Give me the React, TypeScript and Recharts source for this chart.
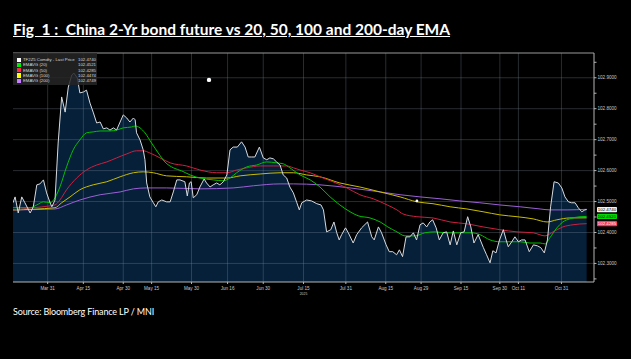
import React from 'react';
import {
  ComposedChart,
  Area,
  Line,
  XAxis,
  YAxis,
  ReferenceLine,
  ReferenceDot,
} from 'recharts';

// x = trading session index (0 = first bar), y = price
const LAST_PRICE: [number, number][] = [
  [0, 102.496], [0.6, 102.515], [1.5, 102.463], [2.5, 102.515], [3.4, 102.496], [4.9, 102.463],
  [5.8, 102.483], [6.8, 102.554], [7.7, 102.557], [8.7, 102.57], [9.6, 102.528], [10.6, 102.496],
  [11.1, 102.483], [12, 102.505], [12.9, 102.689], [13.9, 102.838], [14.9, 102.789], [15.8, 102.87],
  [16.8, 102.909], [17.4, 102.915], [18.4, 102.899], [19.1, 102.851], [20.1, 102.854], [21, 102.86],
  [22, 102.818], [22.9, 102.789], [23.9, 102.754], [24.9, 102.757], [25.8, 102.735], [26.8, 102.738],
  [27.7, 102.731], [28.7, 102.738], [29.6, 102.731], [30.6, 102.757], [31.5, 102.78], [32.5, 102.77],
  [33.4, 102.757], [34.4, 102.77], [34.9, 102.764], [35.3, 102.722], [36.3, 102.699], [37.2, 102.667],
  [37.7, 102.635], [38.2, 102.56], [39.1, 102.515], [40.1, 102.496], [40.8, 102.483], [41.5, 102.499],
  [42.5, 102.505], [43.9, 102.499], [44.9, 102.499], [45.8, 102.531], [46.8, 102.57], [47.7, 102.57],
  [49.1, 102.564], [49.8, 102.518], [50.4, 102.56], [50.9, 102.564], [51.5, 102.512], [52.5, 102.522],
  [53.4, 102.547], [54.6, 102.573], [55.3, 102.56], [56.3, 102.547], [57.2, 102.554], [58.2, 102.56],
  [59.1, 102.554], [60.1, 102.564], [61.1, 102.586], [62, 102.667], [62.9, 102.676], [64.1, 102.676],
  [65.3, 102.693], [66.3, 102.676], [67.2, 102.644], [68.2, 102.644], [69.1, 102.644], [70.4, 102.676],
  [71.5, 102.641], [72.5, 102.635], [73.4, 102.641], [74.4, 102.638], [75.3, 102.628], [76.3, 102.618],
  [77.2, 102.586], [78.2, 102.576], [79.1, 102.547], [80.1, 102.528], [81.1, 102.496], [81.8, 102.473],
  [82.5, 102.496], [83.9, 102.505], [85.3, 102.502], [86.8, 102.493], [88, 102.489], [88.7, 102.473],
  [89.6, 102.402], [90.8, 102.409], [91.7, 102.434], [92.5, 102.399], [93.2, 102.376], [93.9, 102.393],
  [95, 102.415], [95.8, 102.399], [97.2, 102.366], [98.2, 102.393], [99.6, 102.415], [101.3, 102.434],
  [102.5, 102.386], [103.2, 102.376], [104.4, 102.418], [105.3, 102.399], [106.6, 102.36], [107.5, 102.338],
  [108.5, 102.338], [109.6, 102.328], [110.4, 102.344], [111.3, 102.322], [112.3, 102.386], [113.4, 102.386],
  [114.4, 102.399], [115.3, 102.376], [116.3, 102.425], [117.2, 102.431], [118.2, 102.418], [119.1, 102.434],
  [119.9, 102.441], [120.9, 102.415], [121.8, 102.376], [122.9, 102.399], [123.9, 102.402], [124.9, 102.36],
  [125.8, 102.405], [126.8, 102.36], [127.9, 102.399], [128.9, 102.402], [129.9, 102.451], [130.8, 102.418],
  [131.7, 102.366], [132.9, 102.393], [134.4, 102.351], [135.3, 102.328], [136.3, 102.302], [137.1, 102.341],
  [138, 102.334], [139, 102.376], [140.1, 102.409], [140.9, 102.376], [141.5, 102.354], [142.5, 102.37],
  [143.4, 102.386], [144.4, 102.37], [145.3, 102.376], [146.3, 102.376], [147.5, 102.338], [148.7, 102.36],
  [149.8, 102.357], [150.8, 102.351], [151.8, 102.334], [152.7, 102.376], [153.6, 102.483], [154.6, 102.564],
  [155.8, 102.56], [156.8, 102.544], [157.7, 102.515], [158.7, 102.499], [159.6, 102.496], [160.6, 102.496],
  [161.5, 102.48], [162.5, 102.467], [163.4, 102.473], [163.9, 102.474],
];

const EMA_20: [number, number][] = [
  [0, 102.48], [4.9, 102.48], [6.8, 102.489], [8.7, 102.499], [10.6, 102.496], [12, 102.512],
  [13.4, 102.547], [15.3, 102.612], [17.2, 102.667], [19.1, 102.699], [21, 102.722], [22.9, 102.725],
  [24.9, 102.728], [27.7, 102.728], [29.6, 102.731], [31.5, 102.738], [33.9, 102.741], [34.9, 102.744],
  [36.3, 102.738], [37.7, 102.722], [39.6, 102.689], [41.5, 102.657], [43.4, 102.628], [45.8, 102.609],
  [48.2, 102.599], [50.6, 102.586], [53.4, 102.576], [57.2, 102.57], [60.1, 102.567], [62, 102.576],
  [63.9, 102.593], [66.8, 102.612], [69.6, 102.618], [72.5, 102.628], [75.3, 102.625], [77.2, 102.622],
  [79.1, 102.609], [82, 102.586], [84.9, 102.57], [87.7, 102.547], [90.6, 102.515], [93.4, 102.489],
  [96.3, 102.467], [98.6, 102.454], [102, 102.447], [104.9, 102.434], [107.1, 102.418], [109.7, 102.402],
  [112, 102.389], [114.9, 102.389], [117.7, 102.399], [120.6, 102.402], [123.4, 102.399], [126.3, 102.399],
  [129.1, 102.399], [131.1, 102.399], [133.4, 102.393], [136.3, 102.376], [139.1, 102.37], [142, 102.37],
  [144.9, 102.37], [147.7, 102.366], [150.6, 102.366], [152, 102.363], [153.4, 102.383], [155.4, 102.415],
  [157.1, 102.434], [159.1, 102.444], [162, 102.451], [163.9, 102.452],
];

const EMA_50: [number, number][] = [
  [0, 102.473], [5.8, 102.48], [10.6, 102.486], [12, 102.489], [13.4, 102.505], [15.3, 102.538],
  [18.2, 102.576], [21, 102.602], [23.9, 102.618], [26.8, 102.628], [29.6, 102.641], [32.5, 102.654],
  [35.3, 102.664], [37.2, 102.664], [39.1, 102.657], [42, 102.641], [44.9, 102.625], [49.6, 102.615],
  [53.4, 102.602], [58.2, 102.593], [61.1, 102.593], [63.9, 102.602], [66.8, 102.609], [70.6, 102.615],
  [74.4, 102.615], [78.2, 102.615], [80.1, 102.609], [82, 102.602], [84.9, 102.593], [87.7, 102.58],
  [91.4, 102.564], [95.4, 102.544], [99.1, 102.522], [102.9, 102.509], [106.9, 102.489], [109.7, 102.473],
  [111.4, 102.46], [115.4, 102.451], [120, 102.447], [124.9, 102.434], [129.7, 102.428], [134.3, 102.418],
  [139.1, 102.409], [144, 102.402], [148.6, 102.399], [152, 102.389], [154.3, 102.402], [157.1, 102.418],
  [160, 102.425], [163.9, 102.4285],
];

const EMA_100: [number, number][] = [
  [0, 102.473], [12, 102.48], [13.9, 102.496], [16.3, 102.515], [19.1, 102.538], [22.9, 102.554],
  [26.8, 102.564], [30.6, 102.58], [34.4, 102.593], [37.2, 102.596], [40.1, 102.593], [43.9, 102.583],
  [49.6, 102.58], [55.3, 102.576], [61.1, 102.576], [64.9, 102.583], [70.6, 102.589], [76.3, 102.593],
  [80.1, 102.593], [83.9, 102.586], [87.7, 102.58], [93.4, 102.56], [99.1, 102.547], [104.9, 102.531],
  [110.6, 102.515], [115.4, 102.499], [120, 102.493], [124.9, 102.483], [129.7, 102.476], [134.3, 102.467],
  [139.1, 102.457], [144, 102.451], [148.6, 102.444], [152.6, 102.434], [155.4, 102.441], [159.1, 102.447],
  [163.9, 102.4474],
];

const EMA_200: [number, number][] = [
  [0, 102.473], [12, 102.476], [15.3, 102.489], [19.1, 102.505], [24.9, 102.522], [30.6, 102.531],
  [34.4, 102.541], [38.2, 102.544], [43.9, 102.544], [53.4, 102.541], [62.9, 102.544], [68.7, 102.551],
  [76.3, 102.557], [80.1, 102.557], [87.7, 102.554], [96.3, 102.544], [104.9, 102.531], [110.6, 102.522],
  [116.3, 102.515], [122, 102.509], [127.7, 102.502], [133.4, 102.496], [139.1, 102.489], [144.9, 102.483],
  [150.6, 102.476], [153.4, 102.473], [158.3, 102.473], [163.9, 102.4749],
];

const DATE_TICKS = [9.9, 20.1, 31.5, 39.6, 51, 61.3, 71.5, 83, 95.1, 106.5, 116.6, 128, 139.1, 144.4, 156.7];
const DATE_LABELS = ['Mar 31', 'Apr 15', 'Apr 30', 'May 15', 'May 30', 'Jun 16', 'Jun 30', 'Jul 15',
  'Jul 31', 'Aug 15', 'Aug 29', 'Sep 15', 'Sep 30', 'Oct 11', 'Oct 31'];
const PRICE_TICKS = [102.3, 102.4, 102.5, 102.6, 102.7, 102.8, 102.9];
const MINOR_TICKS = [102.25, 102.35, 102.45, 102.55, 102.65, 102.75, 102.85, 102.95];

const LEGEND_NAMES = ['TF2Z5 Comdty - Last Price', 'EMAVG (20)', 'EMAVG (50)', 'EMAVG (100)', 'EMAVG (200)'];
const LEGEND_VALUES = ['102.4740', '102.4521', '102.4285', '102.4474', '102.4749'];
const LEGEND_SWATCH = ['#ffffff', '#00ee00', '#ff2a48', '#ffff00', '#c77dff'];

// badges at the right axis: value, background, text colour
const BADGES: [number, string, string][] = [
  [102.474, '#f2f2f2', '#000'],
  [102.4521, '#00dd00', '#000'],
  [102.4285, '#ff3355', '#fff'],
];

// chart annotations drawn on the Bloomberg screen
const MARKS: [number, number][] = [[56, 102.893], [115.4, 102.502]];

const Y_MIN = 102.24;
const Y_MAX = 102.98;
const X_MAX = 166;

const SERIES: { key: string; points: [number, number][] }[] = [
  { key: 'price', points: LAST_PRICE },
  { key: 'ema20', points: EMA_20 },
  { key: 'ema50', points: EMA_50 },
  { key: 'ema100', points: EMA_100 },
  { key: 'ema200', points: EMA_200 },
];

const rowMap = new Map<number, any>();
SERIES.forEach(({ key, points }) => {
  points.forEach(([s, v]) => {
    const row = rowMap.get(s) ?? { s };
    row[key] = v;
    rowMap.set(s, row);
  });
});
const tableData = [...rowMap.values()].sort((a, b) => a.s - b.s);

const GRID = 'rgba(130,145,160,0.3)';
const AXIS = '#b4b4b4';
const tinyFont = '"Liberation Sans", Arial, sans-serif';

const DateTick = (props: any) => {
  const { x, y, payload } = props;
  const label = DATE_LABELS[DATE_TICKS.indexOf(payload.value)] ?? '';
  return (
    <g>
      <text x={x} y={y + 4} textAnchor="middle" fontSize={4.6} fill="#c8c8c8" fontFamily={tinyFont}>
        {label}
      </text>
      {label === 'Jul 15' && (
        <text x={x} y={y + 8.5} textAnchor="middle" fontSize={3.4} fill="#c8c8c8" fontFamily={tinyFont}>
          2025
        </text>
      )}
    </g>
  );
};

const Badge = (props: any) => {
  const { cx, cy, bg, color, text } = props;
  return (
    <g>
      <rect x={cx + 3} y={cy - 2.6} width={20} height={5.2} fill={bg} rx={0.8} />
      <text x={cx + 13} y={cy + 1.6} textAnchor="middle" fontSize={4.4} fill={color} fontFamily={tinyFont}>
        {text}
      </text>
    </g>
  );
};

export default function App() {
  return (
    <div style={{ position: 'absolute', left: 0, top: 0, width: 631, height: 359, background: '#000', overflow: 'hidden' }}>
      <div
        style={{
          position: 'absolute', left: 13, top: 20, color: '#fff', fontFamily: 'Lato, "Open Sans", sans-serif',
          fontWeight: 700, fontSize: 15.5, textDecoration: 'underline', whiteSpace: 'nowrap',
        }}
      >
        Fig&nbsp; 1 :&nbsp; China 2-Yr bond future vs 20, 50, 100 and 200-day EMA
      </div>

      <div style={{ position: 'absolute', left: 0, top: 0 }}>
        <ComposedChart
          width={631}
          height={300}
          data={tableData}
          margin={{ top: 53, right: 3, bottom: 0, left: 13 }}
        >
          <XAxis
            type="number"
            dataKey="s"
            domain={[0, X_MAX]}
            ticks={DATE_TICKS}
            tick={<DateTick />}
            interval={0}
            axisLine={{ stroke: AXIS }}
            tickLine={{ stroke: AXIS }}
            tickSize={2}
            height={18}
            allowDataOverflow
          />
          <YAxis
            orientation="right"
            type="number"
            domain={[Y_MIN, Y_MAX]}
            ticks={[...PRICE_TICKS, ...MINOR_TICKS].sort((a, b) => a - b)}
            tickFormatter={(v: number) => (Math.abs(v * 10 - Math.round(v * 10)) < 1e-6 ? v.toFixed(4) : '')}
            tick={{ fontSize: 4.6, fill: '#c8c8c8', fontFamily: tinyFont }}
            axisLine={{ stroke: AXIS }}
            tickLine={{ stroke: AXIS }}
            tickSize={2.5}
            tickMargin={1}
            width={34}
            allowDataOverflow
          />
          <Area
            type="linear"
            dataKey="price"
            stroke="none"
            fill="#06203a"
            fillOpacity={1}
            baseValue={Y_MIN}
            connectNulls
            isAnimationActive={false}
          />
          {PRICE_TICKS.map((v) => (
            <ReferenceLine key={`h-${v}`} y={v} stroke={GRID} strokeWidth={1} />
          ))}
          {DATE_TICKS.map((s) => (
            <ReferenceLine key={`v-${s}`} x={s} stroke={GRID} strokeWidth={1} />
          ))}
          <ReferenceLine y={Y_MAX} stroke="#9a9a9a" strokeWidth={1} />
          <Line type="monotone" dataKey="ema200" stroke="#9b5fd6" strokeWidth={1} dot={false} connectNulls isAnimationActive={false} />
          <Line type="monotone" dataKey="ema100" stroke="#c8bc00" strokeWidth={1} dot={false} connectNulls isAnimationActive={false} />
          <Line type="monotone" dataKey="ema50" stroke="#cc2040" strokeWidth={1} dot={false} connectNulls isAnimationActive={false} />
          <Line type="monotone" dataKey="ema20" stroke="#00c000" strokeWidth={1} dot={false} connectNulls isAnimationActive={false} />
          <Line type="linear" dataKey="price" stroke="#d6dadf" strokeWidth={1} dot={false} connectNulls isAnimationActive={false} />
          {MARKS.map(([s, v], i) => (
            <ReferenceDot key={`m-${i}`} x={s} y={v} r={i === 0 ? 2.2 : 1.4} fill="#fff" stroke="none" />
          ))}
          {BADGES.map(([v, bg, color]) => (
            <ReferenceDot
              key={`b-${v}`}
              x={X_MAX}
              y={v}
              ifOverflow="visible"
              shape={(p: any) => <Badge {...p} bg={bg} color={color} text={v.toFixed(4)} />}
            />
          ))}
        </ComposedChart>
      </div>

      <div
        style={{
          position: 'absolute', left: 13, top: 53, width: 84, height: 32, background: 'rgba(38,38,38,0.85)',
          fontFamily: tinyFont, fontSize: 4.3, color: '#d8d8d8',
        }}
      >
        {LEGEND_NAMES.map((name, i) => (
          <div key={name} style={{ position: 'absolute', left: 0, top: 4 + i * 5.3, width: 84, height: 5.3, lineHeight: '5.3px' }}>
            <span style={{ position: 'absolute', left: 4, top: 0.6, width: 4.2, height: 4.2, background: LEGEND_SWATCH[i] }} />
            <span style={{ position: 'absolute', left: 10, whiteSpace: 'nowrap' }}>{name}</span>
            <span style={{ position: 'absolute', right: 1, whiteSpace: 'nowrap' }}>{LEGEND_VALUES[i]}</span>
          </div>
        ))}
      </div>

      <div
        style={{
          position: 'absolute', left: 13, top: 306, color: '#fff', fontFamily: 'Lato, sans-serif', fontSize: 9,
          letterSpacing: -0.15, whiteSpace: 'nowrap',
        }}
      >
        Source: Bloomberg Finance LP / MNI
      </div>
    </div>
  );
}
